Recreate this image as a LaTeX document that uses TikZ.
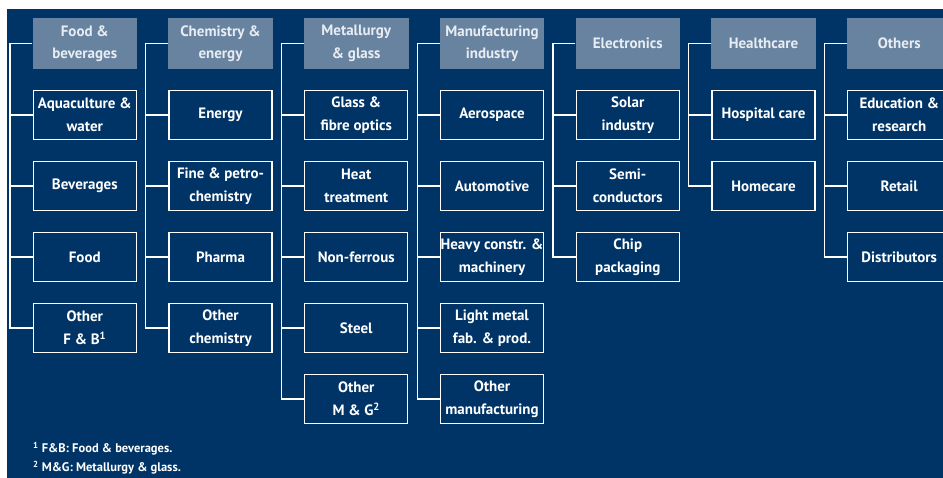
\documentclass[tikz,border=0pt]{standalone}
\usepackage{fontspec}
\setmainfont{PT Sans}
\definecolor{navy}{HTML}{003466}
\definecolor{hdrc}{HTML}{6883A0}
\definecolor{hdrtext}{HTML}{E8EDF3}
\begin{document}
\begin{tikzpicture}[x=1pt,y=-1pt,
  hdr/.style={fill=hdrc, minimum width=104.5pt, minimum height=51pt, inner sep=0pt,
    align=center, text=hdrtext, font=\fontsize{15}{22.5}\selectfont\bfseries},
  itembox/.style={draw=white, line width=1.3pt, fill=navy, minimum width=103pt,
    minimum height=49pt, inner sep=0pt, align=center, text=white,
    font=\fontsize{15}{22.5}\selectfont\bfseries},
  conn/.style={draw=white, line width=1.3pt},
  fnote/.style={anchor=west, inner sep=0pt, text=white, font=\fontsize{12.5}{14}\selectfont\bfseries}]
\useasboundingbox (0,0) rectangle (943,478);
\clip (0,0) rectangle (943,478);
\fill[navy] (7,9) rectangle (943,478);

% ---------- column 1
\node[hdr] (h1) at (84.75,43.5) {Food \&\\beverages};
\node[itembox] (a1) at (84.75,115) {Aquaculture \&\\water};
\node[itembox] (a2) at (84.75,186) {Beverages};
\node[itembox] (a3) at (84.75,257) {Food};
\node[itembox] (a4) at (84.75,328) {Other\\F \& B\textsuperscript{1}};
\coordinate (v1) at (10,0);
% ---------- column 2
\node[hdr] (h2) at (220.5,43.5) {Chemistry \&\\energy};
\node[itembox] (b1) at (220.5,115) {Energy};
\node[itembox] (b2) at (220.5,186) {Fine \& petro-\\chemistry};
\node[itembox] (b3) at (220.5,257) {Pharma};
\node[itembox] (b4) at (220.5,328) {Other\\chemistry};
\coordinate (v2) at (145.75,0);
% ---------- column 3
\node[hdr] (h3) at (356.25,43.5) {Metallurgy\\\& glass};
\node[itembox] (c1) at (356.25,115) {Glass \&\\fibre optics};
\node[itembox] (c2) at (356.25,186) {Heat\\treatment};
\node[itembox] (c3) at (356.25,257) {Non-ferrous};
\node[itembox] (c4) at (356.25,328) {Steel};
\node[itembox] (c5) at (356.25,399) {Other\\M \& G\textsuperscript{2}};
\coordinate (v3) at (281.5,0);
% ---------- column 4
\node[hdr] (h4) at (492,43.5) {Manufacturing\\industry};
\node[itembox] (d1) at (492,115) {Aerospace};
\node[itembox] (d2) at (492,186) {Automotive};
\node[itembox] (d3) at (492,257) {Heavy constr. \&\\machinery};
\node[itembox] (d4) at (492,328) {Light metal\\fab. \& prod.};
\node[itembox] (d5) at (492,399) {Other\\manufacturing};
\coordinate (v4) at (417.25,0);
% ---------- column 5
\node[hdr] (h5) at (627.75,43.5) {Electronics};
\node[itembox] (e1) at (627.75,115) {Solar\\industry};
\node[itembox] (e2) at (627.75,186) {Semi-\\conductors};
\node[itembox] (e3) at (627.75,257) {Chip\\packaging};
\coordinate (v5) at (553,0);
% ---------- column 6
\node[hdr] (h6) at (763.5,43.5) {Healthcare};
\node[itembox] (f1) at (763.5,115) {Hospital care};
\node[itembox] (f2) at (763.5,186) {Homecare};
\coordinate (v6) at (688.75,0);
% ---------- column 7
\node[hdr] (h7) at (899.25,43.5) {Others};
\node[itembox] (g1) at (899.25,115) {Education \&\\research};
\node[itembox] (g2) at (899.25,186) {Retail};
\node[itembox] (g3) at (899.25,257) {Distributors};
\coordinate (v7) at (824.5,0);

% ---------- connectors
\draw[conn] (h1.west) -- (h1.west -| v1) -- (v1 |- a4.west) -- (a4.west);
\foreach \n in {a1,a2,a3} \draw[conn] (\n.west) -- (\n.west -| v1);
\draw[conn] (h2.west) -- (h2.west -| v2) -- (v2 |- b4.west) -- (b4.west);
\foreach \n in {b1,b2,b3} \draw[conn] (\n.west) -- (\n.west -| v2);
\draw[conn] (h3.west) -- (h3.west -| v3) -- (v3 |- c5.west) -- (c5.west);
\foreach \n in {c1,c2,c3,c4} \draw[conn] (\n.west) -- (\n.west -| v3);
\draw[conn] (h4.west) -- (h4.west -| v4) -- (v4 |- d5.west) -- (d5.west);
\foreach \n in {d1,d2,d3,d4} \draw[conn] (\n.west) -- (\n.west -| v4);
\draw[conn] (h5.west) -- (h5.west -| v5) -- (v5 |- e3.west) -- (e3.west);
\foreach \n in {e1,e2} \draw[conn] (\n.west) -- (\n.west -| v5);
\draw[conn] (h6.west) -- (h6.west -| v6) -- (v6 |- f2.west) -- (f2.west);
\draw[conn] (f1.west) -- (f1.west -| v6);
\draw[conn] (h7.west) -- (h7.west -| v7) -- (v7 |- g3.west) -- (g3.west);
\foreach \n in {g1,g2} \draw[conn] (\n.west) -- (\n.west -| v7);

% ---------- footnotes
\node[fnote] (fn1) at (33,449) {\textsuperscript{1} F\&B: Food \& beverages.};
\node[fnote] (fn2) at (33,468) {\textsuperscript{2} M\&G: Metallurgy \& glass.};
\end{tikzpicture}
\end{document}
